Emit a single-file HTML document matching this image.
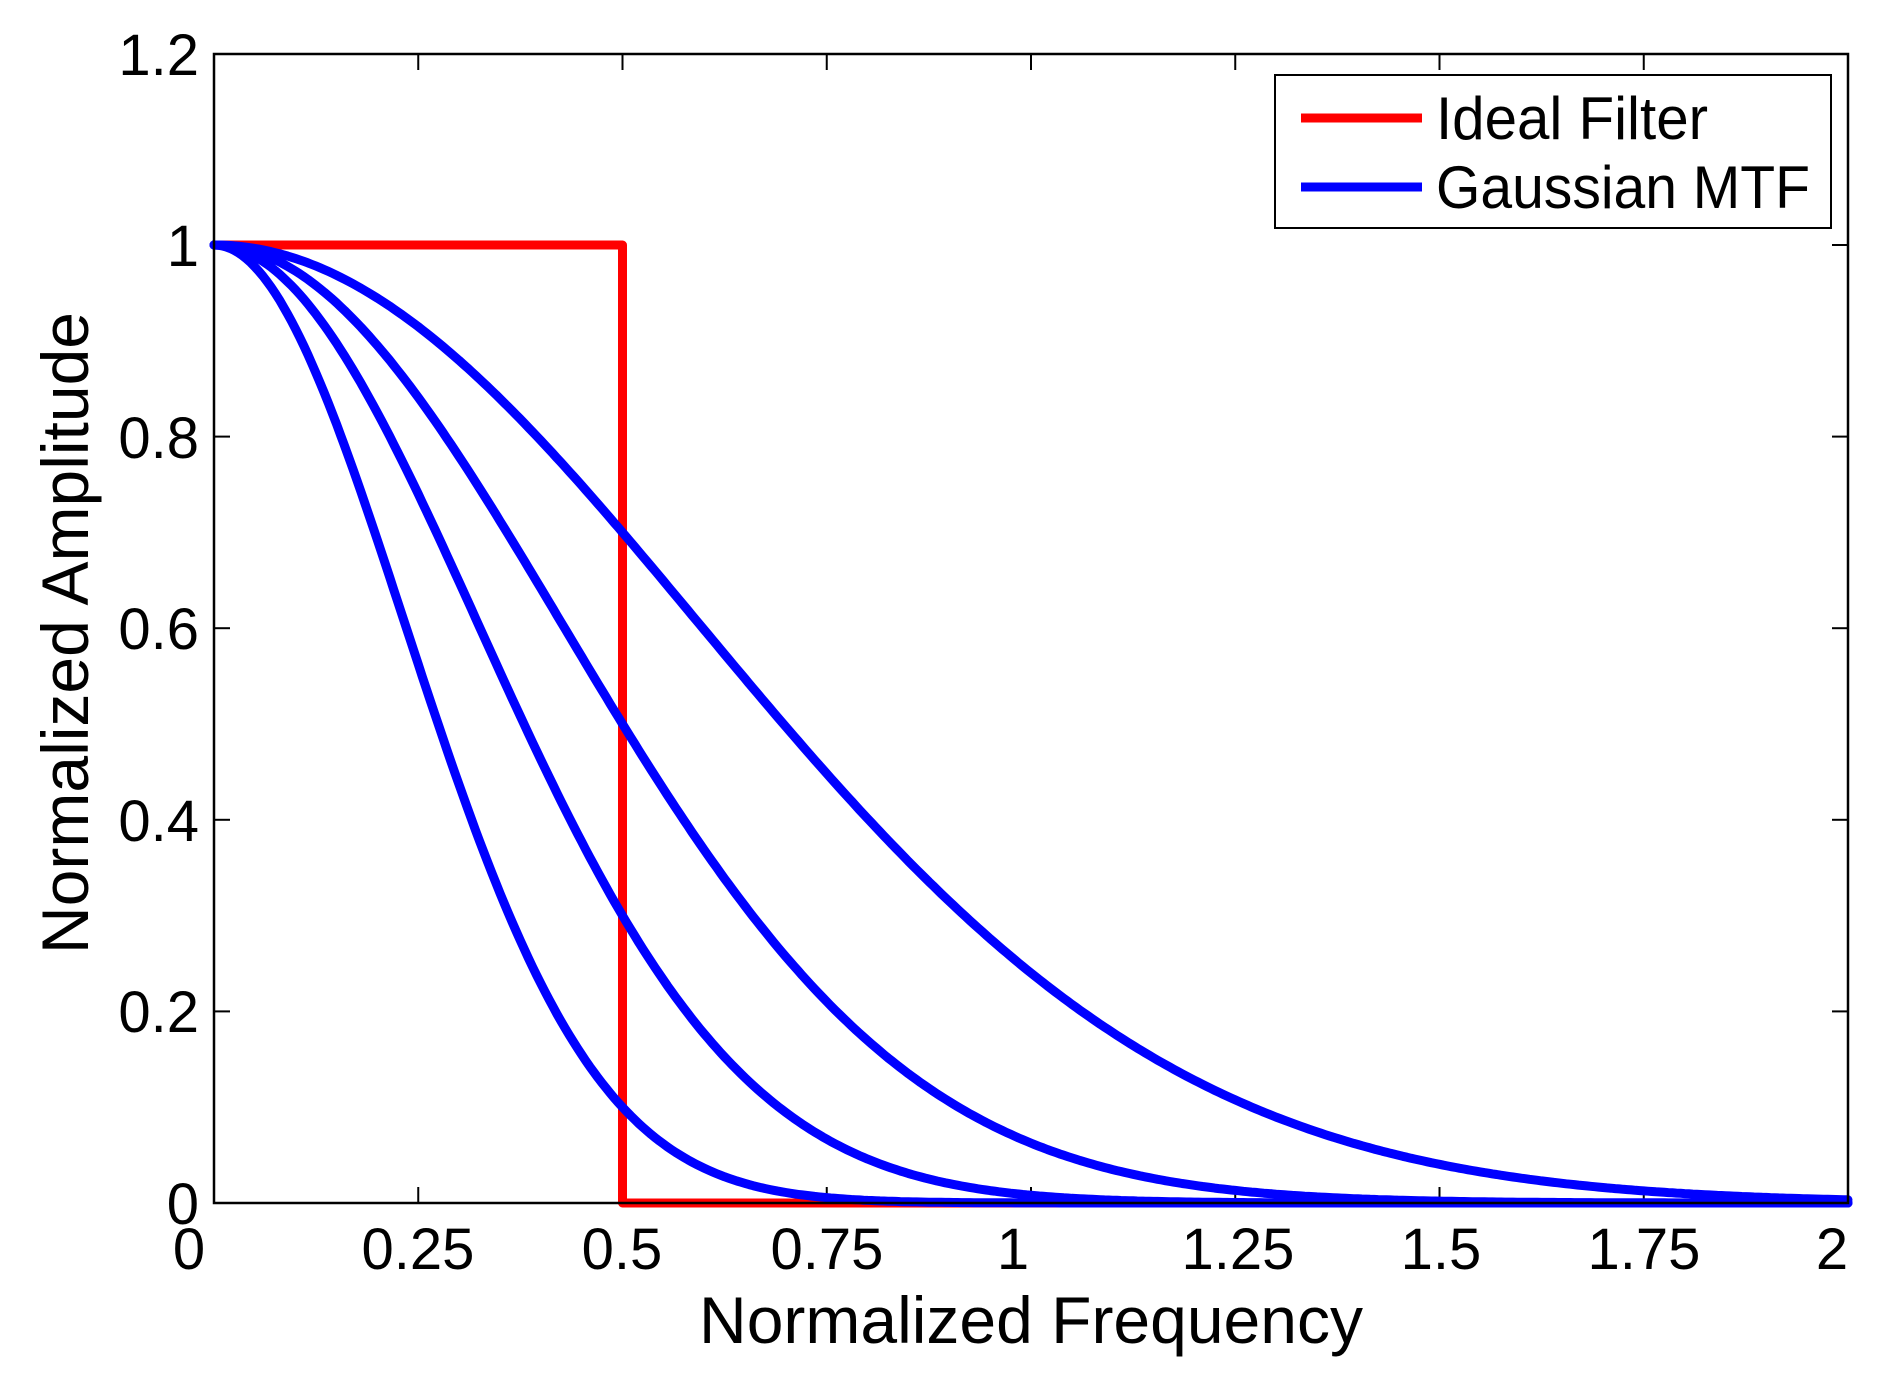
<!DOCTYPE html>
<html><head><meta charset="utf-8"><style>
html,body{margin:0;padding:0;background:#fff;}
svg{display:block;font-family:"Liberation Sans",Arial,sans-serif;}
</style></head><body>
<svg id="s" width="1891" height="1374" viewBox="0 0 1891 1374" xmlns="http://www.w3.org/2000/svg">
<rect width="1891" height="1374" fill="#fff"/>
<g id="ticks" stroke="#000" stroke-width="2"></g>
<polyline points="214,245 622.5,245 622.5,1203 1848,1203" fill="none" stroke="#f00" stroke-width="9" stroke-linejoin="round"/>
<g id="curves" fill="none" stroke="#00f" stroke-width="9" stroke-linejoin="round" stroke-linecap="round"></g>
<rect x="214" y="54" width="1634" height="1149" fill="none" stroke="#000" stroke-width="2.5"/>
<g font-size="58" fill="#000" text-anchor="end" id="ylab">
<text x="199" y="75">1.2</text>
<text x="199" y="266">1</text>
<text x="199" y="458">0.8</text>
<text x="199" y="649">0.6</text>
<text x="199" y="841">0.4</text>
<text x="199" y="1032">0.2</text>
<text x="199" y="1224">0</text>
</g>
<g font-size="58" fill="#000" text-anchor="middle">
<text x="189" y="1269">0</text>
<text x="418" y="1269">0.25</text>
<text x="622" y="1269">0.5</text>
<text x="827" y="1269">0.75</text>
<text x="1013" y="1269">1</text>
<text x="1238" y="1269">1.25</text>
<text x="1441" y="1269">1.5</text>
<text x="1644" y="1269">1.75</text>
<text x="1832" y="1269">2</text>
</g>
<text x="1031" y="1343" font-size="66" text-anchor="middle">Normalized Frequency</text>
<text transform="translate(88,633) rotate(-90)" font-size="66" text-anchor="middle">Normalized Amplitude</text>
<rect x="1275" y="75" width="556" height="153" fill="#fff" stroke="#000" stroke-width="2"/>
<line x1="1301" y1="118" x2="1422" y2="118" stroke="#f00" stroke-width="9"/>
<line x1="1301" y1="187" x2="1422" y2="187" stroke="#00f" stroke-width="9"/>
<text x="1436" y="139" font-size="60" textLength="272" lengthAdjust="spacingAndGlyphs">Ideal Filter</text>
<text x="1436" y="208" font-size="60" textLength="374" lengthAdjust="spacingAndGlyphs">Gaussian MTF</text>
</svg>
<script>
var X=function(f){return 214+f*817;},Y=function(v){return 1203-v*958;};
var t=document.getElementById('ticks'),h='';
for(var i=1;i<8;i++){var x=X(i*0.25);h+='<line x1="'+x+'" y1="1203" x2="'+x+'" y2="1187"/><line x1="'+x+'" y1="54" x2="'+x+'" y2="70"/>';}
for(var j=1;j<6;j++){var y=Y(j*0.2);h+='<line x1="214" y1="'+y+'" x2="230" y2="'+y+'"/><line x1="1848" y1="'+y+'" x2="1832" y2="'+y+'"/>';}
t.innerHTML=h;
var c=document.getElementById('curves'),s='';
[0.7,0.5,0.3,0.1].forEach(function(v){var a=-Math.log(v)/0.25,p=[];for(var k=0;k<=400;k++){var f=k*2/400;p.push(X(f).toFixed(1)+','+Y(Math.exp(-a*f*f)).toFixed(1));}s+='<polyline points="'+p.join(' ')+'"/>';});
c.innerHTML=s;
</script>
</body></html>
